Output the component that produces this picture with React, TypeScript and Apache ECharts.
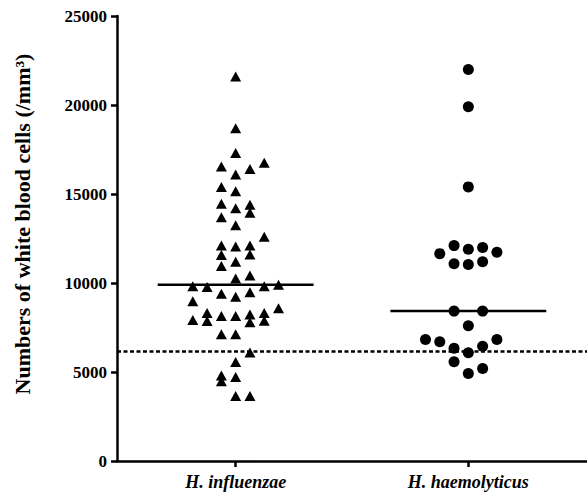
import React, { useEffect, useRef } from "react";
import * as echarts from "echarts";

// Groups on the x axis
const categories = ["H. influenzae", "H. haemolyticus"];

// H. influenzae: white blood cell counts and their dot-plot column (horizontal jitter slot)
const influenzaeValues = [
  21600, 18700, 17300, 16550, 16400, 16750, 16100, 15400, 15150, 14450,
  14200, 14400, 13950, 13700, 13250, 12600, 12100, 12050, 12100, 11580,
  11600, 10950, 11200, 10250, 10420, 9820, 9770, 9820, 9900, 9400,
  9230, 9480, 8980, 8580, 7920, 8320, 7860, 8150, 8150, 8230,
  7800, 8320, 7880, 7120, 7120, 6100, 5560, 4800, 4480, 4720,
  3650, 3650,
];
const influenzaeColumns = [
  0, 0, 0, -1, 1, 2, 0, -1, 0, -1,
  0, 1, 1, -1, 0, 2, -1, 0, 1, -1,
  1, -1, 0, 0, 1, -3, -2, 2, 3, -1,
  0, 1, -3, 3, -3, -2, -2, -1, 0, 1,
  1, 2, 2, -1, 0, 1, 0, -1, -1, 0,
  0, 1,
];

// H. haemolyticus
const haemolyticusValues = [
  22000, 19900, 15400, 11650, 12100, 11900, 12000, 11730, 11080, 11040,
  11200, 8420, 8420, 7600, 6830, 6700, 6830, 6330, 6080, 6450,
  5570, 5200, 4920,
];
const haemolyticusColumns = [
  0, 0, 0, -2, -1, 0, 1, 2, -1, 0,
  1, -1, 1, 0, -3, -2, 2, -1, 0, 1,
  -1, 1, 0,
];

// Central lines per group and reference (dotted) line
const medians = [9900, 8420];
const referenceLine = 6150;

// y axis
const yMin = 0;
const yMax = 25000;
const yInterval = 5000;
const yTitle = "Numbers of white blood cells (/mm³)";

const STEP = 0.0614; // column spacing in x units
const HALF = 0.335; // half width of median line
const X_MIN = -0.51;
const X_MAX = 1.51;

const FONT = "'Liberation Serif', 'Times New Roman', serif";

export default function App() {
  const ref = useRef<HTMLDivElement>(null);

  useEffect(() => {
    if (!ref.current) return;
    const chart = echarts.init(ref.current, undefined, { renderer: "svg" });

    const infData = influenzaeValues.map((v, i) => [0 + influenzaeColumns[i] * STEP, v]);
    const haeData = haemolyticusValues.map((v, i) => [1 + haemolyticusColumns[i] * STEP, v]);

    const lineSeries = medians.map((m, gi) => ({
      type: "line",
      data: [
        [gi - HALF, m],
        [gi + HALF, m],
      ],
      symbol: "none",
      silent: true,
      lineStyle: { color: "#000", width: 2.5 },
      z: 3,
    }));

    chart.setOption({
      animation: false,
      backgroundColor: "#fff",
      grid: { left: 117, right: 0, top: 16, bottom: 39, containLabel: false },
      graphic: [
        {
          type: "text",
          x: 22,
          y: 224,
          rotation: Math.PI / 2,
          style: {
            text: yTitle,
            fill: "#000",
            font: `bold 22px ${FONT}`,
            textAlign: "center",
            textVerticalAlign: "middle",
          },
        },
      ],
      xAxis: {
        type: "value",
        min: X_MIN,
        max: X_MAX,
        splitLine: { show: false },
        axisLine: { show: true, onZero: false, lineStyle: { color: "#000", width: 2.5 } },
        axisTick: {
          show: true,
          customValues: [0, 1],
          length: 6,
          lineStyle: { color: "#000", width: 2.5 },
        },
        axisLabel: {
          customValues: [0, 1],
          formatter: (v: number) => categories[Math.round(v)] ?? "",
          color: "#000",
          fontFamily: FONT,
          fontWeight: "bold",
          fontStyle: "italic",
          fontSize: 18,
          margin: 12,
        },
      },
      yAxis: {
        type: "value",
        min: yMin,
        max: yMax,
        interval: yInterval,
        splitLine: { show: false },
        axisLine: { show: true, onZero: false, lineStyle: { color: "#000", width: 2.5 } },
        axisTick: { show: true, length: 6, lineStyle: { color: "#000", width: 2.5 } },
        axisLabel: {
          formatter: (v: number) => String(v),
          color: "#000",
          fontFamily: FONT,
          fontWeight: "bold",
          fontSize: 17,
          margin: 10,
        },
      },
      series: [
        {
          type: "line",
          data: [
            [X_MIN, referenceLine],
            [X_MAX, referenceLine],
          ],
          symbol: "none",
          silent: true,
          lineStyle: { color: "#000", width: 2.5, type: [4, 2.5] },
          z: 1,
        },
        ...lineSeries,
        {
          type: "scatter",
          data: infData,
          symbol: "triangle",
          symbolSize: [11, 10],
          itemStyle: { color: "#000", opacity: 1 },
          z: 4,
        },
        {
          type: "scatter",
          data: haeData,
          symbol: "circle",
          symbolSize: 11,
          itemStyle: { color: "#000", opacity: 1 },
          z: 4,
        },
      ],
    });

    return () => chart.dispose();
  }, []);

  return (
    <div
      ref={ref}
      style={{ width: 587, height: 500, position: "absolute", left: 0, top: 0 }}
    />
  );
}
